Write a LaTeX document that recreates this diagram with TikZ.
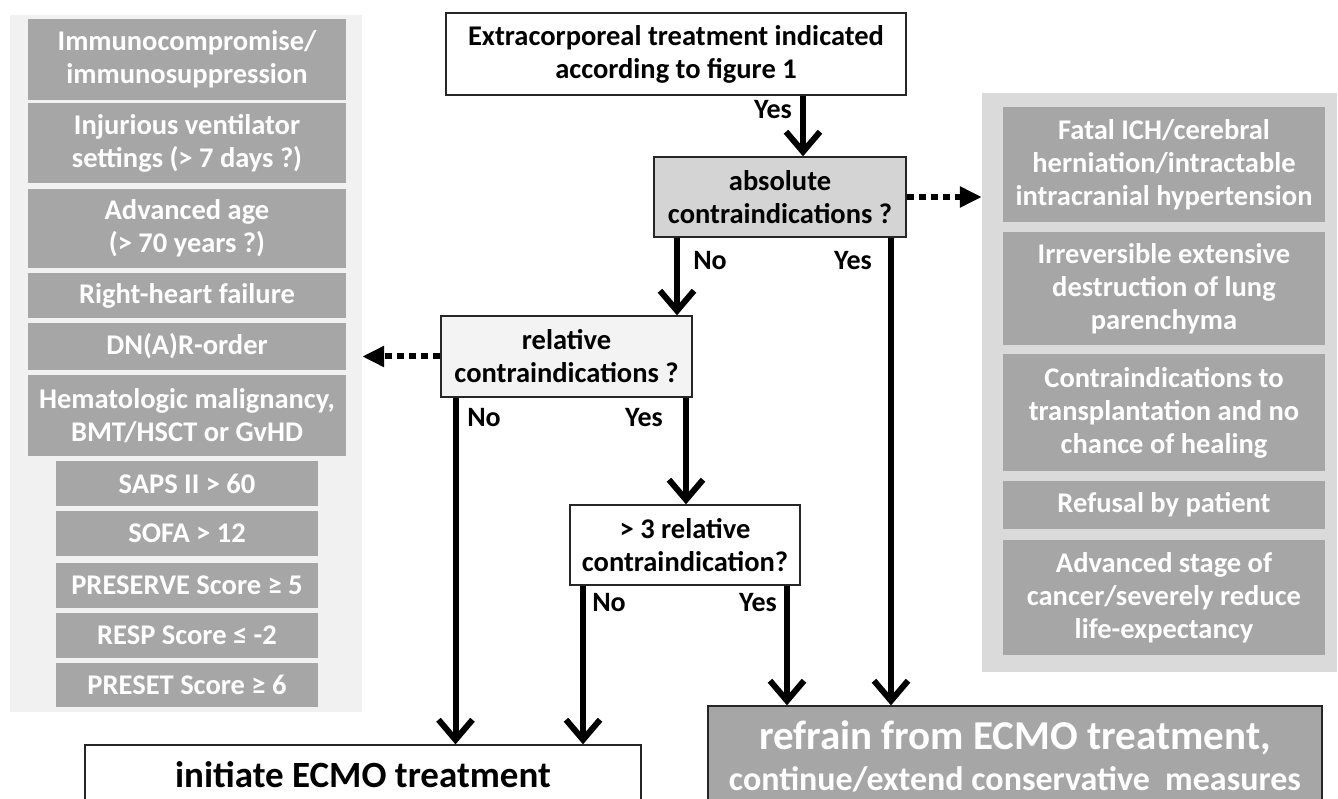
\documentclass[tikz,border=0pt]{standalone}
\usepackage{fontspec}
\setmainfont{Carlito}
\usetikzlibrary{arrows.meta,positioning,calc}
\definecolor{boxgray}{RGB}{166,166,166}
\definecolor{panelleft}{RGB}{241,241,241}
\definecolor{panelright}{RGB}{218,218,218}
\definecolor{absgray}{RGB}{212,212,212}
\definecolor{relgray}{RGB}{243,243,243}

\begin{document}
\begin{tikzpicture}[x=1pt,y=-1pt,
  qbox/.style={draw=black!85,line width=1.3pt,align=center,inner sep=0pt,
    font=\bfseries\fontsize{28.5}{33}\selectfont},
  cbox/.style={fill=boxgray,text=white,align=center,inner sep=0pt,
    font=\bfseries\fontsize{28.5}{33}\selectfont},
  lbl/.style={font=\bfseries\fontsize{28}{30}\selectfont,inner sep=0pt},
  arr/.style={line width=6pt,-{Straight Barb[length=20pt,width=34pt]}},
  dotarr/.style={line width=6pt,dash pattern=on 7pt off 5pt,
    -{Triangle[length=22pt,width=20pt]}}
]
\useasboundingbox (0,0) rectangle (1338,799);
\clip (0,0) rectangle (1338,799);
\fill[white] (0,0) rectangle (1338,799);

% relative contraindications (left)
\node[fill=panelleft,minimum width=352pt,minimum height=697pt] (lpanel) at (186,363.5) {};
\node[cbox,minimum width=318pt,minimum height=81pt] (immuno) at (187,59.5) {Immunocompromise/\\immunosuppression};
\node[cbox,minimum width=318pt,minimum height=80pt] (vent) at (187,143) {Injurious ventilator\\settings (> 7 days ?)};
\node[cbox,minimum width=318pt,minimum height=79pt] (age) at (187,228.5) {Advanced age\\(> 70 years ?)};
\node[cbox,minimum width=318pt,minimum height=45pt] (rhf) at (187,295.5) {Right-heart failure};
\node[cbox,minimum width=318pt,minimum height=47pt] (dnar) at (187,346.5) {DN(A)R-order};
\node[cbox,minimum width=318pt,minimum height=81pt] (hema) at (187,415.5) {Hematologic malignancy,\\BMT/HSCT or GvHD};
\node[cbox,minimum width=262pt,minimum height=45pt] (saps) at (187,483.5) {SAPS II > 60};
\node[cbox,minimum width=262pt,minimum height=45pt] (sofa) at (187,533.5) {SOFA > 12};
\node[cbox,minimum width=262pt,minimum height=45pt] (preserve) at (187,585.5) {PRESERVE Score ≥ 5};
\node[cbox,minimum width=262pt,minimum height=45pt] (resp) at (187,635.5) {RESP Score ≤ -2};
\node[cbox,minimum width=262pt,minimum height=44pt] (preset) at (187,685) {PRESET Score ≥ 6};

% absolute contraindications (right)
\node[fill=panelright,minimum width=355pt,minimum height=579pt] (rpanel) at (1159.5,382.5) {};
\node[cbox,minimum width=322pt,minimum height=115pt] (ich) at (1164,164.5) {Fatal ICH/cerebral\\herniation/intractable\\intracranial hypertension};
\node[cbox,minimum width=322pt,minimum height=113pt] (lung) at (1164,288.5) {Irreversible extensive\\destruction of lung\\parenchyma};
\node[cbox,minimum width=322pt,minimum height=117pt] (transpl) at (1164,412.5) {Contraindications to\\transplantation and no\\chance of healing};
\node[cbox,minimum width=322pt,minimum height=48pt] (refusal) at (1164,505) {Refusal by patient};
\node[cbox,minimum width=322pt,minimum height=115pt] (cancer) at (1164,597.5) {Advanced stage of\\cancer/severely reduce\\life-expectancy};

% decision flow
\node[qbox,fill=white,minimum width=460pt,minimum height=82pt] (top) at (676,54) {Extracorporeal treatment indicated\\according to figure 1};
\node[qbox,fill=absgray,minimum width=252pt,minimum height=80pt] (abs) at (780,197) {absolute\\contraindications ?};
\node[qbox,fill=relgray,minimum width=251pt,minimum height=81pt] (rel) at (566.5,356.5) {relative\\contraindications ?};
\node[qbox,fill=white,minimum width=230pt,minimum height=80pt] (three) at (685,545) {> 3 relative\\contraindication?};
\node[qbox,fill=white,minimum width=556pt,minimum height=60pt,font=\bfseries\fontsize{37}{40}\selectfont] (init) at (363,775) {initiate ECMO treatment};
\node[qbox,fill=boxgray,text=white,minimum width=614pt,minimum height=100pt,font=\bfseries\fontsize{34}{41}\selectfont] (refrain) at (1015,756)
  {{\fontsize{41}{41}\selectfont refrain from ECMO treatment,}\\continue/extend conservative\ \ measures};

\draw[arr] ([xshift=127pt]top.south) -- ([xshift=127pt]top.south |- abs.north);
\draw[arr] ([xshift=-103pt]abs.south) -- ([xshift=-103pt]abs.south |- rel.north);
\draw[arr] ([xshift=111pt]abs.south) -- ([xshift=111pt]abs.south |- refrain.north);
\draw[arr] ([xshift=-111pt]rel.south) -- ([xshift=-111pt]rel.south |- init.north);
\draw[arr] ([xshift=119.5pt]rel.south) -- ([xshift=119.5pt]rel.south |- three.north);
\draw[arr] ([xshift=-102pt]three.south) -- ([xshift=-102pt]three.south |- init.north);
\draw[arr] ([xshift=102pt]three.south) -- ([xshift=102pt]three.south |- refrain.north);
\draw[dotarr] (abs.east) -- (abs.east -| rpanel.west);
\draw[dotarr] (rel.west) -- (rel.west -| lpanel.east);

\node[lbl] (ytop) at (773,110) {Yes};
\node[lbl] (nabs) at (710,261) {No};
\node[lbl] (yabs) at (853,261) {Yes};
\node[lbl] (nrel) at (484,418) {No};
\node[lbl] (yrel) at (644,418) {Yes};
\node[lbl] (nthree) at (609,603) {No};
\node[lbl] (ythree) at (758,603) {Yes};
\end{tikzpicture}
\end{document}
